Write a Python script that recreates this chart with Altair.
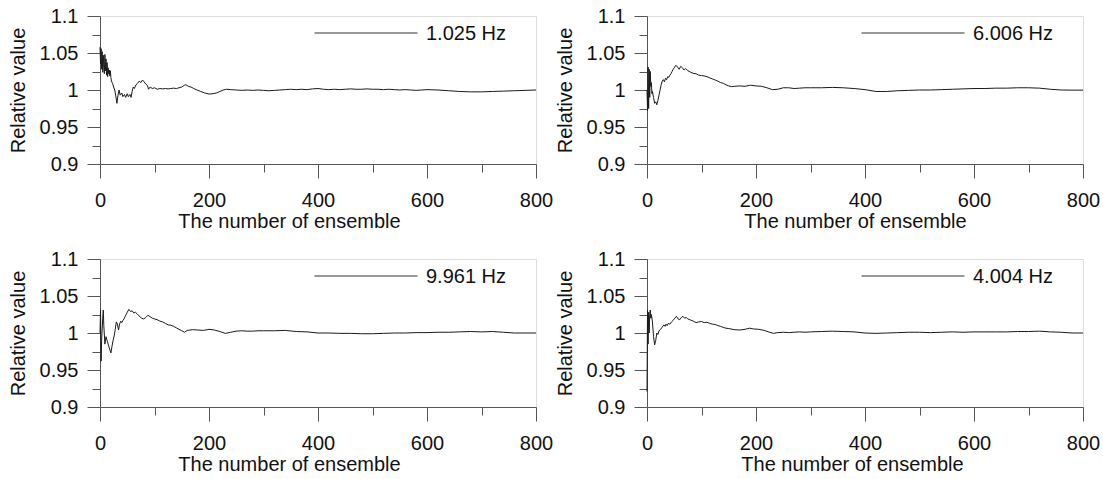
import altair as alt
import pandas as pd

FONT = "Liberation Sans"

# ---------------- data ----------------
x1 = [0,1,2,3,4,5,6,7,8,9,10,11,12,13,14,15,16,17,18,19,20,21,23,25,27,29,31,33,35,37,40,42,45,47,50,52,55,57,59,61,63,66,69,72,75,78,81,84,87,89,92,96,100,105,110,115,120,125,130,135,140,145,150,155,158,162,167,172,178,185,192,200,207,214,220,226,232,240,250,260,270,280,290,300,310,320,330,340,350,360,370,380,390,400,410,420,430,440,450,460,470,480,490,500,510,520,530,540,550,560,570,580,590,600,620,640,660,680,700,720,740,760,780,800]
y1 = [1.058,1.035,1.056,1.028,1.052,1.024,1.047,1.030,1.022,1.048,1.026,1.042,1.020,1.037,1.018,1.030,1.022,1.027,1.019,1.026,1.017,1.012,1.009,1.004,1.000,0.992,0.982,0.993,1.000,0.993,0.996,0.991,0.994,0.990,0.995,0.991,0.994,0.990,0.998,1.004,1.002,1.007,1.009,1.012,1.010,1.0135,1.011,1.008,1.006,1.001,1.004,1.002,1.003,1.001,1.002,1.0015,1.002,1.0015,1.002,1.0025,1.002,1.003,1.004,1.0065,1.007,1.005,1.004,1.002,1.000,0.998,0.996,0.9945,0.995,0.996,0.998,1.000,1.001,1.0005,1.000,0.9995,1.000,0.9995,1.000,0.9995,0.999,0.9995,1.000,1.0005,1.001,1.0005,1.001,1.0005,1.0015,1.002,1.001,1.0005,1.001,1.0005,1.001,1.0015,1.001,1.001,1.0015,1.001,1.001,1.0005,1.001,1.0005,1.000,1.0005,1.000,0.9995,1.000,1.0005,1.000,0.999,0.998,0.9975,0.9975,0.998,0.9985,0.999,0.9995,1.000]

x2 = [0,1,2,3,4,5,6,7,8,9,10,12,14,16,18,20,22,24,26,28,30,32,34,36,38,40,42,44,46,48,50,53,56,59,62,65,68,71,75,80,85,90,95,100,105,110,115,120,125,130,135,140,145,150,155,160,170,180,190,200,210,220,230,240,250,260,270,280,290,300,320,340,360,380,400,420,440,460,480,500,520,540,560,580,600,620,640,660,680,700,720,740,760,780,800]
y2 = [1.000,0.972,1.031,0.975,1.028,0.990,1.025,1.005,1.010,0.995,0.998,0.990,0.982,0.984,0.980,0.986,0.993,1.000,1.007,1.012,1.014,1.011,1.016,1.014,1.018,1.017,1.020,1.022,1.025,1.028,1.030,1.0335,1.031,1.028,1.032,1.030,1.027,1.029,1.026,1.024,1.0225,1.022,1.020,1.0195,1.019,1.018,1.0165,1.015,1.0135,1.012,1.010,1.009,1.007,1.0055,1.0045,1.005,1.0055,1.005,1.0065,1.0055,1.005,1.003,1.0005,1.001,1.003,1.003,1.002,1.0025,1.003,1.003,1.003,1.0035,1.003,1.002,1.0005,0.998,0.998,0.999,0.9995,1.000,1.000,1.0005,1.001,1.0015,1.002,1.002,1.0025,1.0025,1.003,1.003,1.0025,1.001,1.000,0.9998,0.9998]

x3 = [0,1,2,3,5,6,7,9,11,13,15,17,20,22,24,26,28,30,32,34,36,38,40,42,44,46,48,50,53,56,59,62,65,68,72,76,80,84,88,92,96,100,105,110,115,120,125,130,135,140,145,150,155,160,165,170,180,190,200,210,220,230,240,250,260,270,280,290,300,320,340,360,380,400,420,440,460,480,500,520,540,560,580,600,620,640,660,680,700,720,740,760,780,800]
y3 = [1.000,1.031,0.962,0.990,1.020,1.031,1.010,0.985,0.995,0.990,0.985,0.980,0.973,0.982,0.990,0.996,1.005,1.015,1.012,1.004,1.012,1.016,1.014,1.017,1.019,1.022,1.025,1.028,1.032,1.029,1.030,1.027,1.028,1.026,1.023,1.020,1.019,1.021,1.024,1.022,1.020,1.019,1.018,1.016,1.015,1.013,1.011,1.0105,1.009,1.007,1.005,1.003,1.001,1.0035,1.004,1.0045,1.004,1.0035,1.005,1.004,1.002,0.9995,1.001,1.0025,1.003,1.0025,1.0025,1.003,1.003,1.003,1.0035,1.002,1.0015,1.000,1.000,0.9995,0.9995,0.999,0.999,0.9995,1.000,1.000,1.0005,1.0005,1.001,1.001,1.0015,1.002,1.0015,1.002,1.001,1.000,1.000,1.000]

x4 = [0,1,2,3,4,5,6,7,8,10,12,14,16,18,20,22,25,28,31,33,35,37,39,42,45,48,51,54,57,60,63,66,69,72,75,80,85,90,95,100,105,110,115,120,125,130,135,140,145,150,160,170,180,188,195,205,215,225,232,240,250,260,270,280,290,300,320,340,360,380,400,420,440,460,480,500,520,540,560,580,600,620,640,660,680,700,720,740,760,780,800]
y4 = [0.921,1.031,0.985,1.028,1.000,1.025,1.031,1.020,1.025,1.015,0.995,0.984,0.990,1.000,0.998,1.003,1.005,1.008,1.011,1.009,1.012,1.010,1.013,1.012,1.015,1.017,1.020,1.0225,1.019,1.018,1.021,1.0225,1.020,1.021,1.019,1.0175,1.016,1.014,1.015,1.0155,1.014,1.0145,1.013,1.012,1.0115,1.010,1.009,1.0075,1.0065,1.006,1.0045,1.004,1.005,1.0065,1.0055,1.005,1.0035,1.001,0.9995,1.0005,1.001,1.0005,1.001,1.0015,1.001,1.0015,1.002,1.0025,1.002,1.0015,1.000,0.9995,1.000,1.0005,1.001,1.001,1.0005,1.001,1.0015,1.001,1.0015,1.0015,1.0015,1.0015,1.002,1.002,1.0025,1.0015,1.001,1.000,1.000]

freq_labels = ["1.025 Hz", "6.006 Hz", "9.961 Hz", "4.004 Hz"]
x_ticks = [0, 100, 200, 300, 400, 500, 600, 700, 800]
y_ticks = [0.9, 0.925, 0.95, 0.975, 1.0, 1.025, 1.05, 1.075, 1.1]

AX = "#555555"
TXT = "#111111"


def x_axis(title_x):
    return alt.Axis(
        values=x_ticks,
        labelExpr="datum.value % 200 === 0 ? datum.label : ''",
        tickSize={"condition": {"test": "datum.value % 200 !== 0", "value": 8}, "value": 14},
        labelFontSize=20, labelFont=FONT, labelColor=TXT, labelPadding=12,
        labelOverlap=False, labelFlush=False,
        domainColor=AX, tickColor=AX, grid=False,
        title="The number of ensemble", titleFont=FONT, titleFontSize=20,
        titleFontWeight="normal", titleColor=TXT,
        titleX=title_x, titleY=47, titleBaseline="top", titleAlign="center",
    )


y_axis = alt.Axis(
    values=y_ticks,
    labelExpr="round(datum.value*1000) % 50 === 0 ? format(datum.value, '~g') : ''",
    tickSize={"condition": {"test": "round(datum.value*1000) % 50 !== 0", "value": 8}, "value": 13},
    labelFontSize=20, labelFont=FONT, labelColor=TXT, labelPadding=9,
    labelOverlap=False, labelFlush=False,
    domainColor=AX, tickColor=AX, grid=False,
    title="Relative value", titleFont=FONT, titleFontSize=20,
    titleFontWeight="normal", titleColor=TXT,
    titleX=-76, titleY=74, titleBaseline="alphabetic", titleAlign="center", titleAngle=-90,
)


def panel(xs, ys, label, title_x):
    df = pd.DataFrame({"x": xs, "y": ys})
    line = alt.Chart(df).mark_line(color="#1a1a1a", strokeWidth=1).encode(
        x=alt.X("x:Q", scale=alt.Scale(domain=[0, 800], nice=False, zero=False), axis=x_axis(title_x)),
        y=alt.Y("y:Q", scale=alt.Scale(domain=[0.9, 1.1], nice=False, zero=False), axis=y_axis),
    )
    ldf = pd.DataFrame({"label": [label]})
    rule = alt.Chart(ldf).mark_rule(color="#333333", strokeWidth=1).encode(
        x=alt.value(214.5), x2=alt.value(317.5), y=alt.value(17)
    )
    text = alt.Chart(ldf).mark_text(
        align="left", baseline="middle", fontSize=20, font=FONT, color=TXT
    ).encode(x=alt.value(326), y=alt.value(18), text="label:N")
    return alt.layer(line, rule, text).properties(width=436, height=148)


p1 = panel(x1, y1, freq_labels[0], 189)
p2 = panel(x2, y2, freq_labels[1], 208)
p3 = panel(x3, y3, freq_labels[2], 189)
p4 = panel(x4, y4, freq_labels[3], 205)

chart = alt.concat(
    p1, p2, p3, p4, columns=2, spacing={"row": 95, "column": 111}, bounds="flush"
).properties(
    padding={"left": 7, "top": 5, "right": 0, "bottom": 0}
).configure_view(stroke=None).configure(background="white")

chart.save("out.html", embed_options={"renderer": "svg", "actions": False})
